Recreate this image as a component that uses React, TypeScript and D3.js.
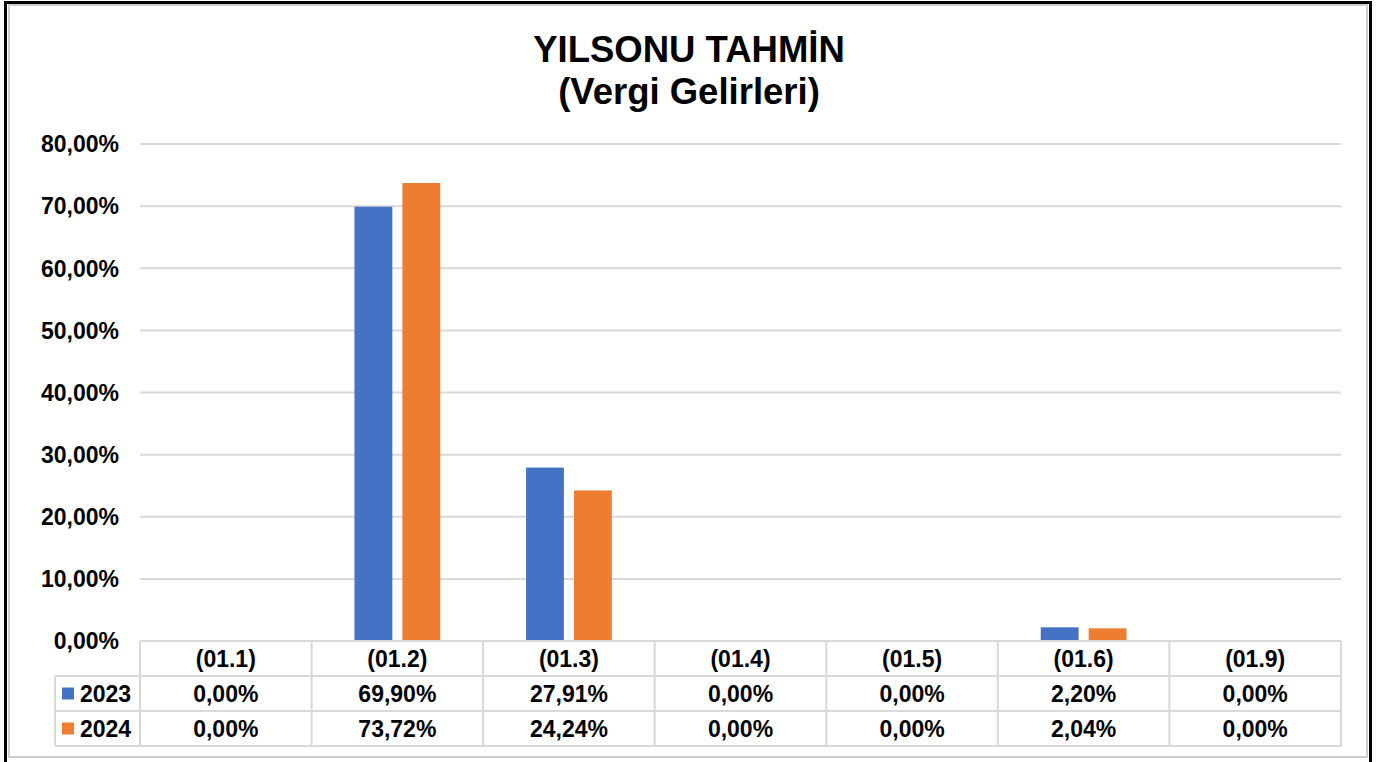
import React from 'react'
import * as d3 from 'd3'

const categories = ['(01.1)', '(01.2)', '(01.3)', '(01.4)', '(01.5)', '(01.6)', '(01.9)']
const seriesNames = ['2023', '2024']
const values2023 = [0, 69.9, 27.91, 0, 0, 2.2, 0]
const values2024 = [0, 73.72, 24.24, 0, 0, 2.04, 0]
const yTicks = [0, 10, 20, 30, 40, 50, 60, 70, 80]
const colors = ['#4472C4', '#ED7D31']

const W = 1379
const H = 762
const font = 'Liberation Sans, Arial, sans-serif'
const gridColor = '#D9D9D9'

const pctFmt = (v: number) => v.toFixed(2).replace('.', ',') + '%'

function App() {
    const plotLeft = 140
    const plotRight = 1341
    const plotTop = 144
    const plotBottom = 641

    const x0 = d3.scaleBand().domain(categories).range([plotLeft, plotRight])
    const bw = x0.bandwidth()
    const x1 = d3.scaleBand().domain(seriesNames).range([bw * 0.25, bw * 0.75]).paddingInner(0.21)
    const y = d3.scaleLinear().domain([0, 80]).range([plotBottom, plotTop])

    const series = [values2023, values2024]

    // data table rows
    const rowTops = [641, 676, 711, 746]
    const legendLeft = 55

    return (
        <div style={{ position: 'fixed', left: 0, top: 0 }}>
            <svg width={W} height={H} style={{ display: 'block', background: 'white' }}>
                {/* frame */}
                <rect x={5.5} y={2.5} width={1365} height={H + 10} fill="none" stroke="black" strokeWidth={3} />
                <rect x={9} y={5} width={1358} height={752} fill="none" stroke="#BFBFBF" strokeWidth={1.5} />

                {/* title */}
                <text x={689} y={62} textAnchor="middle" fontFamily={font} fontWeight="bold" fontSize={36.5}>YILSONU TAHMİN</text>
                <text x={689} y={104} textAnchor="middle" fontFamily={font} fontWeight="bold" fontSize={36.5}>(Vergi Gelirleri)</text>

                {/* gridlines */}
                {yTicks.map(t => (
                    <line key={t} x1={plotLeft} x2={plotRight} y1={y(t)} y2={y(t)} stroke={gridColor} strokeWidth={2} />
                ))}
                {yTicks.map(t => (
                    <text key={'l' + t} x={119} y={y(t)} dy="0.36em" textAnchor="end" fontFamily={font} fontWeight="bold" fontSize={23}>
                        {pctFmt(t)}
                    </text>
                ))}

                {/* bars */}
                {categories.map((c, i) => (
                    <g key={c} transform={`translate(${x0(c)},0)`}>
                        {seriesNames.map((s, j) => {
                            const v = series[j][i]
                            if (v <= 0) return null
                            return (
                                <rect key={s} x={x1(s)} y={y(v)} width={x1.bandwidth()} height={y(0) - y(v)} fill={colors[j]} />
                            )
                        })}
                    </g>
                ))}

                {/* data table */}
                <line x1={plotLeft} x2={plotRight} y1={rowTops[0]} y2={rowTops[0]} stroke={gridColor} strokeWidth={2} />
                {rowTops.slice(1).map(r => (
                    <line key={r} x1={legendLeft} x2={plotRight} y1={r} y2={r} stroke={gridColor} strokeWidth={2} />
                ))}
                <line x1={legendLeft} x2={legendLeft} y1={rowTops[1]} y2={rowTops[3]} stroke={gridColor} strokeWidth={2} />
                {categories.map(c => (
                    <line key={'v' + c} x1={x0(c)} x2={x0(c)} y1={rowTops[0]} y2={rowTops[3]} stroke={gridColor} strokeWidth={2} />
                ))}
                <line x1={plotRight} x2={plotRight} y1={rowTops[0]} y2={rowTops[3]} stroke={gridColor} strokeWidth={2} />

                {categories.map((c, i) => (
                    <g key={'t' + c} fontFamily={font} fontWeight="bold" fontSize={23} textAnchor="middle">
                        <text x={(x0(c) as number) + bw / 2} y={(rowTops[0] + rowTops[1]) / 2} dy="0.36em">{c}</text>
                        {series.map((vals, j) => (
                            <text key={j} x={(x0(c) as number) + bw / 2} y={(rowTops[j + 1] + rowTops[j + 2]) / 2} dy="0.36em">
                                {pctFmt(vals[i])}
                            </text>
                        ))}
                    </g>
                ))}

                {/* legend keys in table */}
                {seriesNames.map((s, j) => {
                    const cy = (rowTops[j + 1] + rowTops[j + 2]) / 2
                    return (
                        <g key={'k' + s}>
                            <rect x={62} y={cy - 6} width={12} height={12} fill={colors[j]} />
                            <text x={80} y={cy} dy="0.36em" fontFamily={font} fontWeight="bold" fontSize={23}>{s}</text>
                        </g>
                    )
                })}
            </svg>
        </div>
    )
}

export default App
